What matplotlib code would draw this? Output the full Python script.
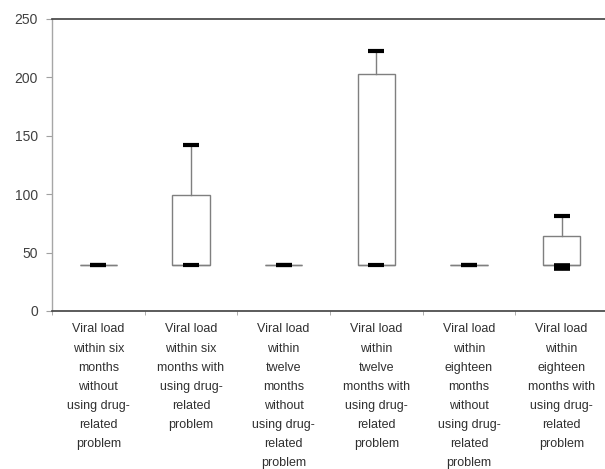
import matplotlib
matplotlib.use("Agg")
import matplotlib.pyplot as plt

plt.rcParams['font.family'] = ['Liberation Sans Narrow', 'Liberation Sans', 'DejaVu Sans']

categories = [
    "Viral load\nwithin six\nmonths\nwithout\nusing drug-\nrelated\nproblem",
    "Viral load\nwithin six\nmonths with\nusing drug-\nrelated\nproblem",
    "Viral load\nwithin\ntwelve\nmonths\nwithout\nusing drug-\nrelated\nproblem",
    "Viral load\nwithin\ntwelve\nmonths with\nusing drug-\nrelated\nproblem",
    "Viral load\nwithin\neighteen\nmonths\nwithout\nusing drug-\nrelated\nproblem",
    "Viral load\nwithin\neighteen\nmonths with\nusing drug-\nrelated\nproblem",
]
minimum = [39, 39, 39, 39, 39, 36]
q1 = [39, 39, 39, 39, 39, 39]
median = [39, 39, 39, 39, 39, 39]
q3 = [39, 99, 39, 203, 39, 64]
maximum = [39, 142, 39, 223, 39, 81]
yticks = [0, 50, 100, 150, 200, 250]

fig = plt.figure(figsize=(6.05, 4.69), dpi=100)
ax = fig.add_axes([52 / 605, 1 - 311 / 469, 556 / 605, 292 / 469])

stats = []
for i, name in enumerate(categories):
    stats.append(dict(label=name, whislo=minimum[i], q1=q1[i], med=median[i],
                      q3=q3[i], whishi=maximum[i], fliers=[]))

positions = list(range(1, len(categories) + 1))
gray = "#7f7f7f"
art = ax.bxp(stats, positions=positions, widths=0.4, capwidths=0.17,
             showfliers=False, patch_artist=True,
             boxprops=dict(facecolor="white", edgecolor=gray, linewidth=1.0),
             whiskerprops=dict(color=gray, linewidth=1.0),
             capprops=dict(color="black", linewidth=3.0, solid_capstyle="butt"),
             medianprops=dict(color=gray, linewidth=1.0))

# caps sit on top of the boxes
for cap in art['caps']:
    cap.set_zorder(5)
# the lower cap of the last group also covers its first quartile
art['caps'][2 * (len(categories) - 1)].set_linewidth(5.5)
art['caps'][2 * (len(categories) - 1)].set_ydata([37.5, 37.5])

ax.set_xlim(0.5, len(categories) + 0.5)
ax.set_ylim(0, 250)
ax.set_yticks(yticks)
ax.set_yticklabels([str(v) for v in yticks])

ax.set_xticks(positions)
ax.set_xticklabels(categories, linespacing=1.78, fontsize=9, color="#303030")
ax.set_xticks([p + 0.5 for p in range(0, len(categories) + 1)], minor=True)
ax.tick_params(axis='x', which='major', length=0, pad=9)
ax.tick_params(axis='x', which='minor', length=3, color="#a0a0a0", direction='out')
ax.tick_params(axis='y', length=4, color="#a0a0a0", labelsize=10, labelcolor="#404040", pad=6)

for side in ['top', 'bottom']:
    ax.spines[side].set_color("#404040")
    ax.spines[side].set_linewidth(1.2)
ax.spines['left'].set_color("#a6a6a6")
ax.spines['left'].set_linewidth(1.0)
ax.spines['right'].set_visible(False)

fig.savefig("out.png", dpi=100)
